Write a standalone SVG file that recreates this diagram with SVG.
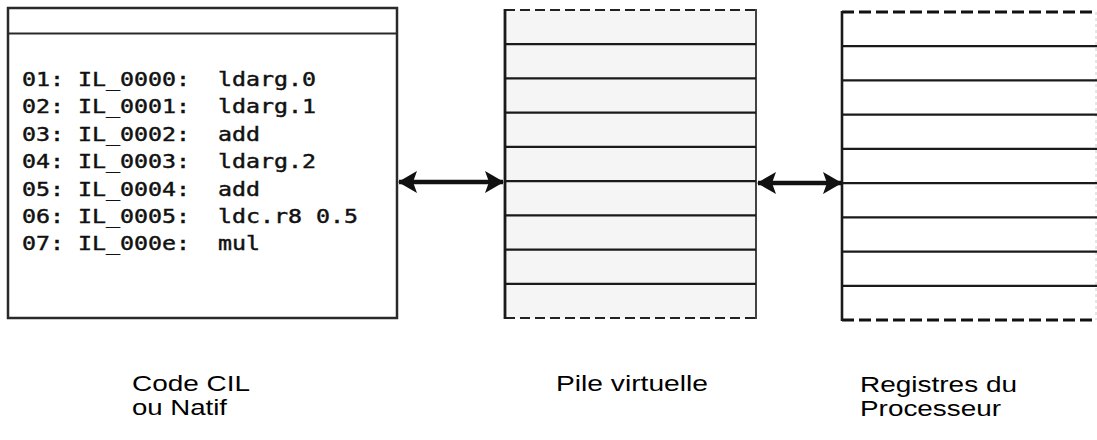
<svg xmlns="http://www.w3.org/2000/svg" width="1097" height="440" viewBox="0 0 1097 440">
<style>
.code{font-family:"DejaVu Sans Mono","Liberation Mono",monospace;font-size:20px;fill:#111;stroke:#111;stroke-width:0.45}
.lbl{font-family:"Liberation Sans",Arial,sans-serif;font-size:22px;fill:#000}
.row{stroke:#1a1a1a;stroke-width:2.2}
.conn{stroke:#111;stroke-width:4.5;fill:none}
</style>
<defs>
<marker id="ah" viewBox="0 0 19 22" refX="18" refY="11" markerWidth="19" markerHeight="22" markerUnits="userSpaceOnUse" orient="auto-start-reverse">
<path d="M0,0 L19,11 L0,22 L4,11 Z" fill="#111"/>
</marker>
</defs>
<rect width="1097" height="440" fill="#fff"/>
<g id="code-box">
<rect x="8" y="8" width="389" height="310" fill="#fff" stroke="#2a2a2a" stroke-width="2.5"/>
<line x1="8" y1="33.5" x2="397" y2="33.5" stroke="#2a2a2a" stroke-width="2.2"/>
<text class="code" x="22" y="86" textLength="168" lengthAdjust="spacingAndGlyphs">01: IL_0000:</text>
<text class="code" x="218" y="86" textLength="98" lengthAdjust="spacingAndGlyphs">ldarg.0</text>
<text class="code" x="22" y="113.4" textLength="168" lengthAdjust="spacingAndGlyphs">02: IL_0001:</text>
<text class="code" x="218" y="113.4" textLength="98" lengthAdjust="spacingAndGlyphs">ldarg.1</text>
<text class="code" x="22" y="140.8" textLength="168" lengthAdjust="spacingAndGlyphs">03: IL_0002:</text>
<text class="code" x="218" y="140.8" textLength="42" lengthAdjust="spacingAndGlyphs">add</text>
<text class="code" x="22" y="168.2" textLength="168" lengthAdjust="spacingAndGlyphs">04: IL_0003:</text>
<text class="code" x="218" y="168.2" textLength="98" lengthAdjust="spacingAndGlyphs">ldarg.2</text>
<text class="code" x="22" y="195.6" textLength="168" lengthAdjust="spacingAndGlyphs">05: IL_0004:</text>
<text class="code" x="218" y="195.6" textLength="42" lengthAdjust="spacingAndGlyphs">add</text>
<text class="code" x="22" y="223" textLength="168" lengthAdjust="spacingAndGlyphs">06: IL_0005:</text>
<text class="code" x="218" y="223" textLength="140" lengthAdjust="spacingAndGlyphs">ldc.r8 0.5</text>
<text class="code" x="22" y="250.4" textLength="168" lengthAdjust="spacingAndGlyphs">07: IL_000e:</text>
<text class="code" x="218" y="250.4" textLength="42" lengthAdjust="spacingAndGlyphs">mul</text>
<text class="lbl" x="132" y="391" textLength="118" lengthAdjust="spacingAndGlyphs">Code CIL</text>
<text class="lbl" x="132" y="415" textLength="95" lengthAdjust="spacingAndGlyphs">ou Natif</text>
</g>
<g id="pile-virtuelle">
<rect x="505" y="10" width="251" height="308" fill="#f5f5f5"/>
<line x1="505" y1="10" x2="756" y2="10" stroke="#222" stroke-width="2" stroke-dasharray="10,5"/>
<line x1="505" y1="318" x2="756" y2="318" stroke="#222" stroke-width="2" stroke-dasharray="10,5"/>
<line x1="505" y1="9" x2="505" y2="319" stroke="#1a1a1a" stroke-width="2.8"/>
<line x1="756" y1="9" x2="756" y2="319" stroke="#444" stroke-width="2"/>
<line class="row" x1="505" y1="44.2" x2="756" y2="44.2"/>
<line class="row" x1="505" y1="78.4" x2="756" y2="78.4"/>
<line class="row" x1="505" y1="112.7" x2="756" y2="112.7"/>
<line class="row" x1="505" y1="146.9" x2="756" y2="146.9"/>
<line class="row" x1="505" y1="181.1" x2="756" y2="181.1"/>
<line class="row" x1="505" y1="215.3" x2="756" y2="215.3"/>
<line class="row" x1="505" y1="249.6" x2="756" y2="249.6"/>
<line class="row" x1="505" y1="283.8" x2="756" y2="283.8"/>
<text class="lbl" x="556" y="391" textLength="152" lengthAdjust="spacingAndGlyphs">Pile virtuelle</text>
</g>
<g id="registres">
<line x1="842" y1="12" x2="1097" y2="12" stroke="#111" stroke-width="3" stroke-dasharray="12,5"/>
<line x1="842" y1="320" x2="1097" y2="320" stroke="#111" stroke-width="3" stroke-dasharray="12,5"/>
<line x1="842" y1="11" x2="842" y2="321" stroke="#1a1a1a" stroke-width="2.6"/>
<line x1="1096" y1="12" x2="1096" y2="320" stroke="#ccc" stroke-width="1" stroke-dasharray="3,3"/>
<line class="row" x1="842" y1="46.2" x2="1097" y2="46.2"/>
<line class="row" x1="842" y1="80.4" x2="1097" y2="80.4"/>
<line class="row" x1="842" y1="114.7" x2="1097" y2="114.7"/>
<line class="row" x1="842" y1="148.9" x2="1097" y2="148.9"/>
<line class="row" x1="842" y1="183.1" x2="1097" y2="183.1"/>
<line class="row" x1="842" y1="217.3" x2="1097" y2="217.3"/>
<line class="row" x1="842" y1="251.6" x2="1097" y2="251.6"/>
<line class="row" x1="842" y1="285.8" x2="1097" y2="285.8"/>
<text class="lbl" x="860" y="392" textLength="157" lengthAdjust="spacingAndGlyphs">Registres du</text>
<text class="lbl" x="860" y="416" textLength="141" lengthAdjust="spacingAndGlyphs">Processeur</text>
</g>
<g id="connectors">
<line class="conn" x1="399" y1="182" x2="503" y2="182" marker-start="url(#ah)" marker-end="url(#ah)"/>
<line class="conn" x1="758" y1="183" x2="841" y2="183" marker-start="url(#ah)" marker-end="url(#ah)"/>
</g>
</svg>
